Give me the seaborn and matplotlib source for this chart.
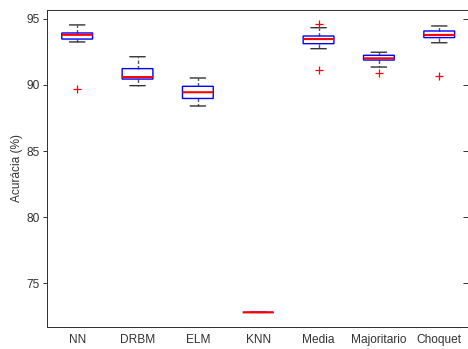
import numpy as np
import pandas as pd
import matplotlib
matplotlib.use("Agg")
import matplotlib.pyplot as plt
import seaborn as sns

# Accuracy summary per classifier / combination rule
categories = ["NN", "DRBM", "ELM", "KNN", "Media", "Majoritario", "Choquet"]
whisker_low = [93.26, 89.95, 88.41, 72.78, 92.75, 91.36, 93.20]
quartile_1 = [93.48, 90.45, 88.98, 72.78, 93.13, 91.89, 93.59]
medians = [93.80, 90.60, 89.45, 72.78, 93.48, 92.02, 93.79]
quartile_3 = [93.94, 91.24, 89.90, 72.78, 93.71, 92.25, 94.09]
whisker_high = [94.55, 92.14, 90.53, 72.78, 94.34, 92.48, 94.47]

outlier_groups = ["NN", "Media", "Media", "Majoritario", "Choquet"]
outlier_values = [89.70, 94.60, 91.14, 90.93, 90.68]

y_ticks = [75, 80, 85, 90, 95]

# Five-number summaries -> long table (linear percentiles reproduce them exactly)
rows = []
for i, c in enumerate(categories):
    for v in (whisker_low[i], quartile_1[i], medians[i], quartile_3[i], whisker_high[i]):
        rows.append({"grupo": c, "acc": v})
df = pd.DataFrame(rows)

out_df = pd.DataFrame({
    "pos": [categories.index(g) for g in outlier_groups],
    "acc": outlier_values,
})

sns.set_theme(style="ticks")
plt.rcParams["font.family"] = ["Liberation Sans", "DejaVu Sans"]

fig = plt.figure(figsize=(4.68, 3.49), dpi=100)
ax = fig.add_axes([47 / 468, 22 / 349, (469.4 - 47) / 468, (327 - 10) / 349])

sns.boxplot(
    data=df, x="grupo", y="acc", order=categories, ax=ax,
    whis=(0, 100), width=0.51, showfliers=False,
    boxprops=dict(facecolor="none", edgecolor="#0000ff", linewidth=1.0, zorder=2, snap=False),
    medianprops=dict(color="#ff0000", linewidth=1.5, zorder=6, snap=False),
    whiskerprops=dict(color="#555555", linestyle=(0, (2.5, 1.5)), linewidth=1.0, zorder=1),
    capprops=dict(color="#333333", linewidth=1.0, zorder=1, snap=False),
)

sns.scatterplot(
    data=out_df, x="pos", y="acc", ax=ax, marker="+", color="#ff0000",
    s=40, linewidth=0.9, legend=False, zorder=5,
)

ax.set_xlim(-0.5, 6.5)
ax.set_ylim(71.67, 95.68)
ax.set_xticks(range(len(categories)))
ax.set_xticklabels(categories, fontsize=8.6, color="#333333")
ax.set_yticks(y_ticks)
ax.set_yticklabels([str(t) for t in y_ticks], fontsize=8.6, color="#333333")
ax.set_xlabel("")
ax.set_ylabel("Acurácia (%)", fontsize=8.6, color="#333333", labelpad=3)

ax.tick_params(axis="x", length=0, pad=5)
ax.tick_params(axis="y", direction="out", length=3, width=0.7, pad=2, color="#333333")
for s in ax.spines.values():
    s.set_visible(True)
    s.set_color("#333333")
    s.set_linewidth(0.7)

# inward ticks on the right edge
ax2 = ax.twinx()
ax2.set_ylim(ax.get_ylim())
ax2.set_yticks(y_ticks)
ax2.tick_params(axis="y", direction="in", length=4, width=0.7, labelright=False, color="#333333")
for s in ax2.spines.values():
    s.set_linewidth(0.7)
    s.set_color("#333333")

fig.savefig("out.png", dpi=100, facecolor="white")
